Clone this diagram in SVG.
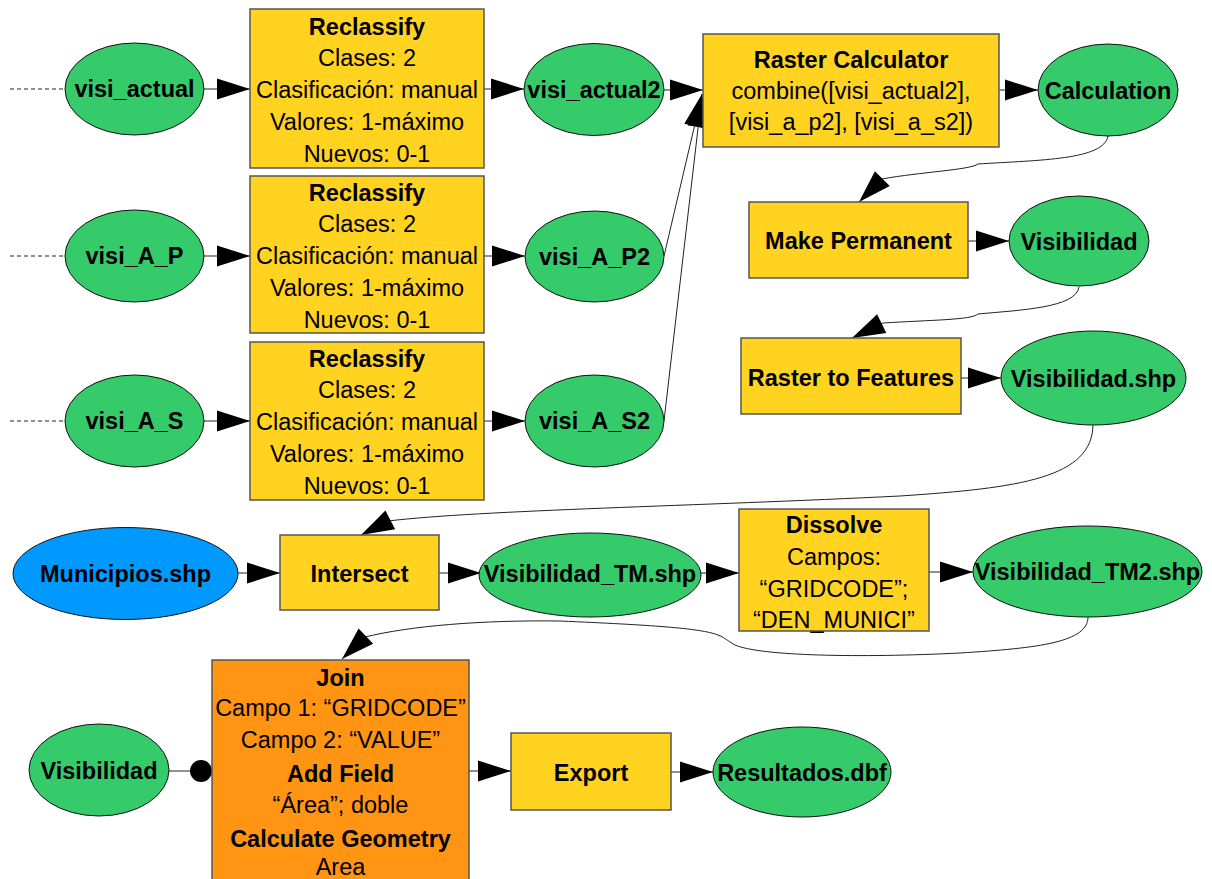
<svg xmlns="http://www.w3.org/2000/svg" width="1212" height="879" viewBox="0 0 1212 879">
<style>
.ell{fill:#36CB6A;stroke:#111;stroke-width:1}
.blue{fill:#0099FF;stroke:#111;stroke-width:1}
.box{fill:#FFD320;stroke:#555;stroke-width:1.5}
.obox{fill:#FF9512;stroke:#555;stroke-width:1.5}
.b{font-family:"Liberation Sans",Arial,sans-serif;font-weight:bold;font-size:23.5px;fill:#000;text-anchor:middle}
.r{font-family:"Liberation Sans",Arial,sans-serif;font-size:23.5px;fill:#000;text-anchor:middle}
.c{fill:none;stroke:#222;stroke-width:1}
.d{fill:none;stroke:#222;stroke-width:1;stroke-dasharray:4,3}
</style>
<defs>
<marker id="ah" markerWidth="34" markerHeight="22" refX="33" refY="11" orient="auto" markerUnits="userSpaceOnUse" viewBox="0 0 34 22" overflow="visible">
<path d="M0,0.5 L33,11 L0,21.5 z" fill="#000"/>
</marker>
</defs>
<rect width="1212" height="879" fill="#fff"/>

<g id="connectors">
<line class="d" x1="10" y1="89" x2="65" y2="89"/>
<line class="d" x1="10" y1="256" x2="65" y2="256"/>
<line class="d" x1="10" y1="421" x2="65" y2="421"/>
<line class="c" x1="204" y1="89" x2="250" y2="89" marker-end="url(#ah)"/>
<line class="c" x1="204" y1="256" x2="250" y2="256" marker-end="url(#ah)"/>
<line class="c" x1="204" y1="421" x2="250" y2="421" marker-end="url(#ah)"/>
<line class="c" x1="484" y1="89" x2="524" y2="89" marker-end="url(#ah)"/>
<line class="c" x1="484" y1="256" x2="525" y2="256" marker-end="url(#ah)"/>
<line class="c" x1="484" y1="421" x2="525" y2="421" marker-end="url(#ah)"/>
<line class="c" x1="664" y1="90" x2="703" y2="90" marker-end="url(#ah)"/>
<line class="c" x1="664" y1="256" x2="702" y2="94" marker-end="url(#ah)"/>
<line class="c" x1="664" y1="421" x2="702" y2="94" marker-end="url(#ah)"/>
<line class="c" x1="999" y1="90" x2="1038" y2="90" marker-end="url(#ah)"/>
<path class="c" d="M1108,136 C1104,160 1040,160 978,164 C970,170 920,172 882,179 L859,202" marker-end="url(#ah)"/>
<line class="c" x1="968" y1="241" x2="1009" y2="241" marker-end="url(#ah)"/>
<path class="c" d="M1079,287 C1076,308 1020,310 978,314 C972,320 930,320 883,323 L852,338" marker-end="url(#ah)"/>
<line class="c" x1="961" y1="378" x2="1001" y2="378" marker-end="url(#ah)"/>
<path class="c" d="M1093,424 C1093,478 1020,488 900,496 C700,506 480,510 388,521 L361,535" marker-end="url(#ah)"/>
<line class="c" x1="238" y1="573" x2="280" y2="573" marker-end="url(#ah)"/>
<line class="c" x1="439" y1="573" x2="481" y2="573" marker-end="url(#ah)"/>
<line class="c" x1="701" y1="573" x2="739" y2="573" marker-end="url(#ah)"/>
<line class="c" x1="929" y1="572" x2="973" y2="572" marker-end="url(#ah)"/>
<path class="c" d="M1088,617 C1088,642 1040,648 960,653 C860,658 760,656 735,645 C726,640 724,637 718,635 C700,628 650,625 560,621 C480,620 410,626 365,637 L342,659" marker-end="url(#ah)"/>
<line class="c" x1="169" y1="771" x2="192" y2="771"/>
<circle cx="201" cy="771" r="11" fill="#000"/>
<line class="c" x1="469" y1="771" x2="511" y2="771" marker-end="url(#ah)"/>
<line class="c" x1="671" y1="772" x2="713" y2="772" marker-end="url(#ah)"/>
</g>

<g id="visi_actual"><ellipse class="ell" cx="134.5" cy="89" rx="69.5" ry="46"/><text class="b" x="134.5" y="97">visi_actual</text></g>
<g id="visi_A_P"><ellipse class="ell" cx="134.5" cy="256" rx="69.5" ry="46"/><text class="b" x="134.5" y="264">visi_A_P</text></g>
<g id="visi_A_S"><ellipse class="ell" cx="134.5" cy="421" rx="69.5" ry="46"/><text class="b" x="134.5" y="429">visi_A_S</text></g>

<g id="reclassify1"><rect class="box" x="250" y="9" width="234" height="159"/>
<text class="b" x="367" y="35">Reclassify</text>
<text class="r" x="367" y="66">Clases: 2</text>
<text class="r" x="367" y="98">Clasificación: manual</text>
<text class="r" x="367" y="130">Valores: 1-máximo</text>
<text class="r" x="367" y="162">Nuevos: 0-1</text></g>
<g id="reclassify2"><rect class="box" x="250" y="176" width="234" height="157"/>
<text class="b" x="367" y="201">Reclassify</text>
<text class="r" x="367" y="232">Clases: 2</text>
<text class="r" x="367" y="264">Clasificación: manual</text>
<text class="r" x="367" y="296">Valores: 1-máximo</text>
<text class="r" x="367" y="328">Nuevos: 0-1</text></g>
<g id="reclassify3"><rect class="box" x="250" y="342" width="234" height="158"/>
<text class="b" x="367" y="367">Reclassify</text>
<text class="r" x="367" y="398">Clases: 2</text>
<text class="r" x="367" y="430">Clasificación: manual</text>
<text class="r" x="367" y="462">Valores: 1-máximo</text>
<text class="r" x="367" y="494">Nuevos: 0-1</text></g>

<g id="visi_actual2"><ellipse class="ell" cx="594" cy="89.5" rx="70" ry="46"/><text class="b" x="594" y="97.5">visi_actual2</text></g>
<g id="visi_A_P2"><ellipse class="ell" cx="594.5" cy="256.5" rx="69.5" ry="45.5"/><text class="b" x="594.5" y="264.5">visi_A_P2</text></g>
<g id="visi_A_S2"><ellipse class="ell" cx="594.5" cy="421" rx="69.5" ry="46"/><text class="b" x="594.5" y="429">visi_A_S2</text></g>

<g id="raster_calculator"><rect class="box" x="703" y="34" width="296" height="113"/>
<text class="b" x="851" y="68">Raster Calculator</text>
<text class="r" x="851" y="99">combine([visi_actual2],</text>
<text class="r" x="851" y="130">[visi_a_p2], [visi_a_s2])</text></g>

<g id="calculation"><ellipse class="ell" cx="1108" cy="90" rx="70" ry="46"/><text class="b" x="1108" y="98.5">Calculation</text></g>
<g id="make_permanent"><rect class="box" x="749" y="202" width="219" height="76"/><text class="b" x="858.5" y="249">Make Permanent</text></g>
<g id="visibilidad"><ellipse class="ell" cx="1079" cy="241" rx="70" ry="45"/><text class="b" x="1079" y="249.5">Visibilidad</text></g>
<g id="raster_to_features"><rect class="box" x="741" y="338" width="220" height="76"/><text class="b" x="851" y="385.5">Raster to Features</text></g>
<g id="visibilidad_shp"><ellipse class="ell" cx="1093.5" cy="378" rx="92.5" ry="47"/><text class="b" x="1093.5" y="386.5">Visibilidad.shp</text></g>

<g id="municipios"><ellipse class="blue" cx="125.5" cy="573.5" rx="112.5" ry="46"/><text class="b" x="125.5" y="582">Municipios.shp</text></g>
<g id="intersect"><rect class="box" x="280" y="535" width="159" height="75"/><text class="b" x="359.5" y="581.5">Intersect</text></g>
<g id="visibilidad_tm"><ellipse class="ell" cx="590" cy="575" rx="111" ry="42"/><text class="b" x="590" y="581.5">Visibilidad_TM.shp</text></g>
<g id="dissolve"><rect class="box" x="739" y="509" width="190" height="122"/>
<text class="b" x="834" y="533">Dissolve</text>
<text class="r" x="834" y="565">Campos:</text>
<text class="r" x="834" y="597">“GRIDCODE”;</text>
<text class="r" x="834" y="628">“DEN_MUNICI”</text></g>
<g id="visibilidad_tm2"><ellipse class="ell" cx="1087.5" cy="571.5" rx="114.5" ry="45.5"/><text class="b" x="1087.5" y="580">Visibilidad_TM2.shp</text></g>

<g id="visibilidad_b"><ellipse class="ell" cx="99" cy="770" rx="70" ry="46"/><text class="b" x="99" y="778.5">Visibilidad</text></g>
<g id="join"><rect class="obox" x="212" y="660" width="257" height="240"/>
<text class="b" x="340.5" y="685.5">Join</text>
<text class="r" x="340.5" y="716">Campo 1: “GRIDCODE”</text>
<text class="r" x="340.5" y="748">Campo 2: “VALUE”</text>
<text class="b" x="340.5" y="781.5">Add Field</text>
<text class="r" x="340.5" y="813">“Área”; doble</text>
<text class="b" x="340.5" y="846.5">Calculate Geometry</text>
<text class="r" x="340.5" y="875">Area</text></g>
<g id="export"><rect class="box" x="511" y="733" width="160" height="77"/><text class="b" x="591" y="780.5">Export</text></g>
<g id="resultados"><ellipse class="ell" cx="802" cy="772" rx="89" ry="45"/><text class="b" x="802" y="780.5">Resultados.dbf</text></g>
</svg>
